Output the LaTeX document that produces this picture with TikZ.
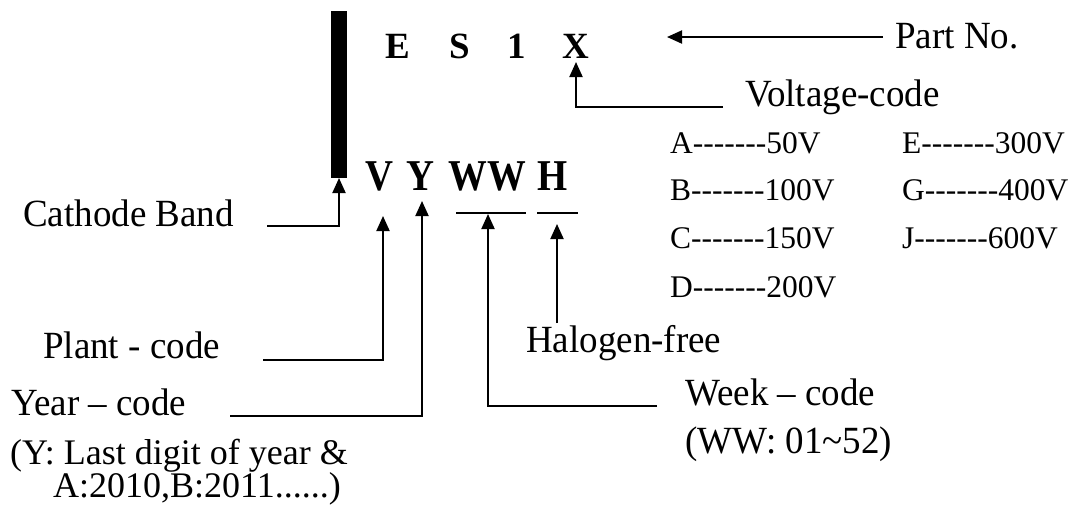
\documentclass[tikz,border=0pt]{standalone}
\usepackage{fontspec}
\setmainfont{Liberation Serif}[Ligatures=TeXOff]
\usetikzlibrary{arrows.meta}
\tikzset{
  lbl/.style={anchor=base west,inner sep=0pt,font=\fontsize{37}{40}\selectfont},
  lbls/.style={anchor=base west,inner sep=0pt,font=\fontsize{36}{40}\selectfont},
  tbl/.style={anchor=base west,inner sep=0pt,font=\fontsize{31.5}{36}\selectfont},
  bigA/.style={anchor=base,inner sep=0pt,font=\fontsize{37}{40}\selectfont\bfseries},
  bigB/.style={anchor=base,inner sep=0pt,font=\fontsize{44}{46}\selectfont\bfseries},
  arr/.style={line width=2pt,-{Triangle[length=15pt,width=13pt]}},
  ln/.style={line width=2pt}
}
\newcommand{\sq}[1]{\scalebox{0.88}[1]{#1}}
\newcommand{\tl}[1]{\scalebox{1}[1.04]{#1}}
\begin{document}
\begin{tikzpicture}[x=1pt,y=-1pt]
\useasboundingbox (0,0) rectangle (1075,507);
% cathode band
\fill (331,11) rectangle (347,178);
\coordinate (band) at (339,178);
% top letters
\node[bigA] (E) at (398,58) {E};
\node[bigA] (S) at (460,58) {S};
\node[bigA] (one) at (517,58) {1};
\node[bigA] (X) at (576,58) {X};
% bottom letters
\node[bigB] (V) at (379,190) {\sq{V}};
\node[bigB] (Y) at (420,190) {\sq{Y}};
\node[bigB] (W) at (487,190) {\sq{WW}};
\node[bigB] (H) at (553,190) {\sq{H}};
% underlines
\draw[ln] (456,213) coordinate (wwl) -- (526,213) coordinate (wwr);
\draw[ln] (537,213) coordinate (hl) -- (578,213) coordinate (hr);
% labels
\node[lbl] (pn) at (895,48) {\tl{Part No.}};
\node[lbl] (vc) at (745,106) {\tl{Voltage-code}};
\node[lbl] (cb) at (23,226) {\tl{Cathode Band}};
\node[lbl] (pc) at (43,358) {\tl{Plant - code}};
\node[lbl] (yc) at (11,415) {\tl{Year – code}};
\node[lbls] (yc2) at (10,464) {(Y: Last digit of year \&};
\node[lbls] (yc3) at (53,497) {A:2010,B:2011......)};
\node[lbl] (hf) at (526,352) {\tl{Halogen-free}};
\node[lbl] (wc) at (685,405) {\tl{Week – code}};
\node[lbl] (wc2) at (685,453) {\tl{(WW: 01\char`\~52)}};
% voltage table
\node[tbl] (tA) at (670,153) {A-------50V};
\node[tbl] (tB) at (670,200) {B-------100V};
\node[tbl] (tC) at (670,248) {C-------150V};
\node[tbl] (tD) at (670,297) {D-------200V};
\node[tbl] (tE) at (902,153) {E-------300V};
\node[tbl] (tG) at (902,200) {G-------400V};
\node[tbl] (tJ) at (902,248) {J-------600V};
% connectors
\coordinate (pnS) at (883,37);
\coordinate (pnT) at (667,37);
\draw[arr] (pnS) -- (pnT);
\coordinate (vcS) at (723,107);
\coordinate (xT) at (576,62);
\draw[arr] (vcS) -| (xT);
\coordinate (cbS) at (267,226);
\draw[arr] (cbS) -| (band);
\coordinate (pcS) at (263,360);
\coordinate (vT) at (383,216);
\draw[arr] (pcS) -| (vT);
\coordinate (ycS) at (230,416);
\coordinate (yT) at (422,201);
\draw[arr] (ycS) -| (yT);
\coordinate (wcS) at (657,406);
\coordinate (wT) at (488,214);
\draw[arr] (wcS) -| (wT);
\coordinate (hfS) at (557,323);
\coordinate (hT) at (557,224);
\draw[arr] (hfS) -- (hT);
\end{tikzpicture}
\end{document}
